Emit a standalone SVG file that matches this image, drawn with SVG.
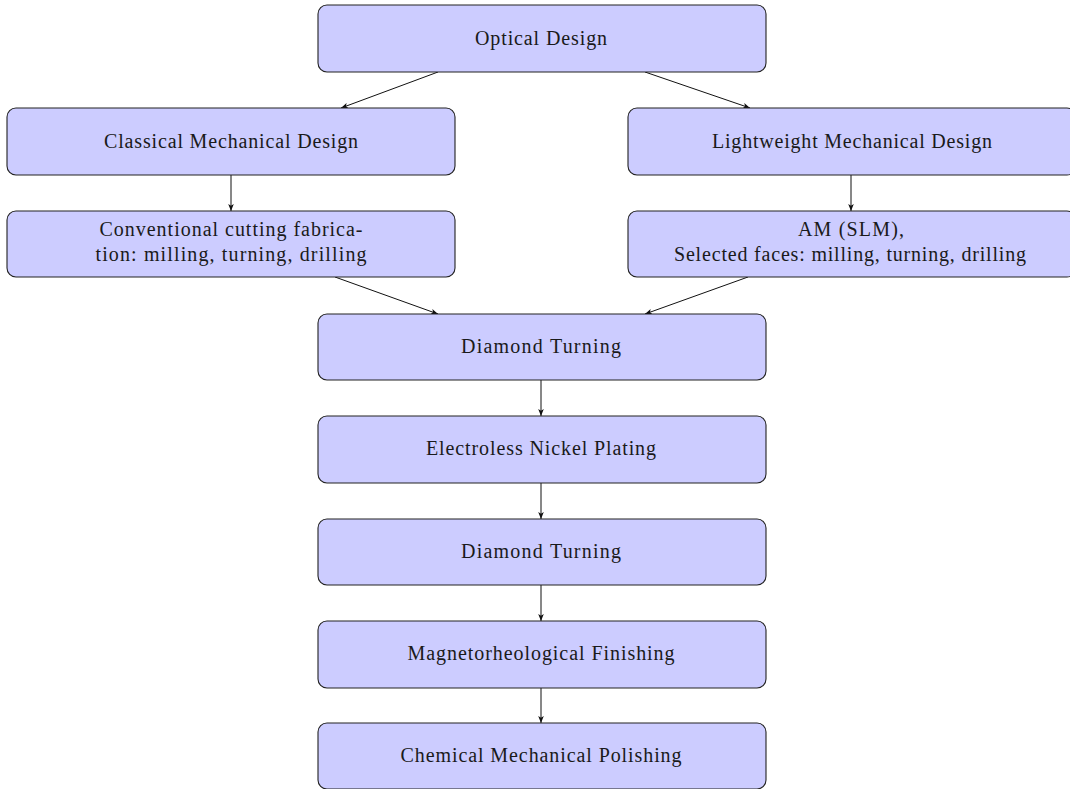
<svg xmlns="http://www.w3.org/2000/svg" width="1070" height="789" viewBox="0 0 1070 789">
<style>
.box{fill:#ccccff;stroke:#222;stroke-width:1.1}
.t{font-family:"Liberation Serif","DejaVu Serif",serif;font-size:20px;fill:#1a1a1a;text-anchor:middle}
.c{stroke:#111;stroke-width:1;fill:none;marker-end:url(#ah)}
</style>
<defs>
<marker id="ah" viewBox="0 0 10 8" refX="10" refY="4" markerWidth="7" markerHeight="5.6" markerUnits="userSpaceOnUse" orient="auto">
<path d="M0,0 L10,4 L0,8 L2.5,4 Z" fill="#111"/>
</marker>
</defs>
<rect width="1070" height="789" fill="#fff"/>
<g id="connectors">
<line class="c" x1="438" y1="72" x2="341" y2="108"/>
<line class="c" x1="645" y1="72" x2="750" y2="108"/>
<line class="c" x1="231" y1="175" x2="231" y2="211"/>
<line class="c" x1="851" y1="175" x2="851" y2="211"/>
<line class="c" x1="335" y1="277" x2="438" y2="314"/>
<line class="c" x1="748" y1="277" x2="645" y2="314"/>
<line class="c" x1="541" y1="380" x2="541" y2="416"/>
<line class="c" x1="541" y1="483" x2="541" y2="519"/>
<line class="c" x1="541" y1="585" x2="541" y2="621"/>
<line class="c" x1="541" y1="688" x2="541" y2="723"/>
</g>
<g id="optical"><rect class="box" x="318" y="5" width="448" height="67" rx="9"/><text class="t" x="541" y="45" textLength="132" lengthAdjust="spacing">Optical Design</text></g>
<g id="classical"><rect class="box" x="7" y="108" width="448" height="67" rx="9"/><text class="t" x="231" y="148" textLength="254" lengthAdjust="spacing">Classical Mechanical Design</text></g>
<g id="lightweight"><rect class="box" x="628" y="108" width="448" height="67" rx="9"/><text class="t" x="852" y="148" textLength="280" lengthAdjust="spacing">Lightweight Mechanical Design</text></g>
<g id="conventional"><rect class="box" x="7" y="211" width="448" height="66" rx="9"/><text class="t" x="231" y="236" textLength="263" lengthAdjust="spacing">Conventional cutting fabrica-</text><text class="t" x="231" y="261" textLength="271" lengthAdjust="spacing">tion:  milling, turning, drilling</text></g>
<g id="am"><rect class="box" x="628" y="211" width="448" height="66" rx="9"/><text class="t" x="851" y="236" textLength="106" lengthAdjust="spacing">AM (SLM),</text><text class="t" x="850" y="261" textLength="352" lengthAdjust="spacing">Selected faces:  milling, turning, drilling</text></g>
<g id="diamond1"><rect class="box" x="318" y="314" width="448" height="66" rx="9"/><text class="t" x="541" y="353" textLength="160" lengthAdjust="spacing">Diamond Turning</text></g>
<g id="nickel"><rect class="box" x="318" y="416" width="448" height="67" rx="9"/><text class="t" x="541" y="455" textLength="230" lengthAdjust="spacing">Electroless Nickel Plating</text></g>
<g id="diamond2"><rect class="box" x="318" y="519" width="448" height="66" rx="9"/><text class="t" x="541" y="558" textLength="160" lengthAdjust="spacing">Diamond Turning</text></g>
<g id="mrf"><rect class="box" x="318" y="621" width="448" height="67" rx="9"/><text class="t" x="541" y="660" textLength="267" lengthAdjust="spacing">Magnetorheological Finishing</text></g>
<g id="cmp"><rect class="box" x="318" y="723" width="448" height="66" rx="9"/><text class="t" x="541" y="762" textLength="281" lengthAdjust="spacing">Chemical Mechanical Polishing</text></g>
</svg>
